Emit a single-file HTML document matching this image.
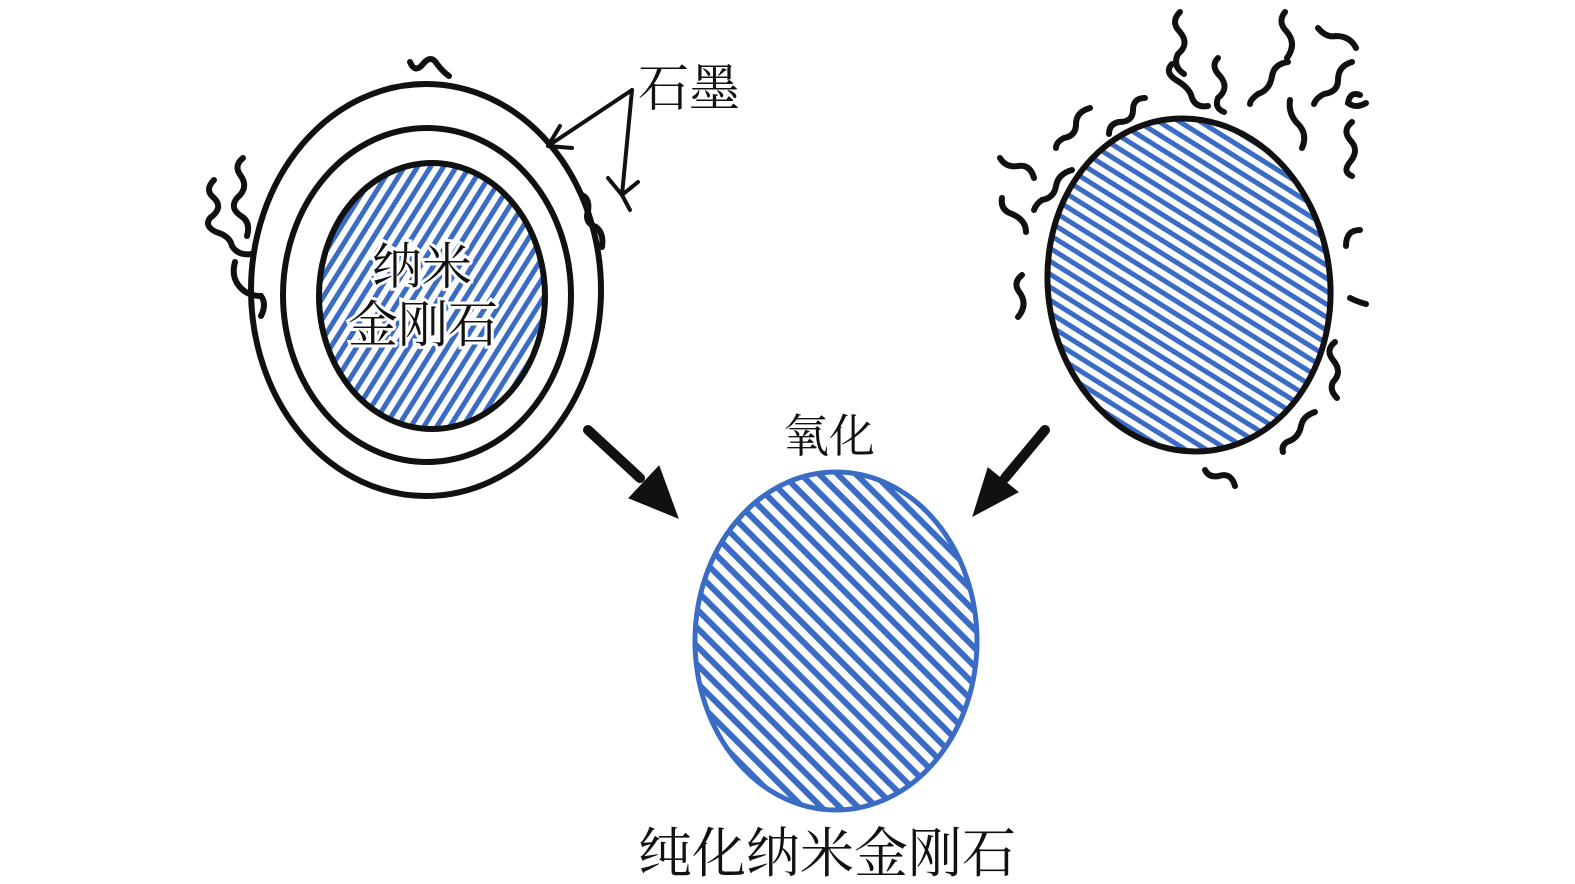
<!DOCTYPE html>
<html><head><meta charset="utf-8"><style>
html,body{margin:0;padding:0;background:#fff;}
svg{display:block}
text{font-family:"Liberation Serif","Noto Serif CJK SC","Noto Sans CJK SC",serif;fill:#111}
</style></head><body>
<svg width="1575" height="884" viewBox="0 0 1575 884" xmlns="http://www.w3.org/2000/svg">
<defs>
<pattern id="hs" width="11" height="11" patternUnits="userSpaceOnUse" patternTransform="rotate(-58)">
<rect width="11" height="11" fill="#fff"/><rect width="11" height="5" fill="#3a6cc6"/>
</pattern>
<pattern id="hb" width="11" height="11" patternUnits="userSpaceOnUse" patternTransform="rotate(40)">
<rect width="11" height="11" fill="#fff"/><rect width="11" height="5" fill="#3a6cc6"/>
</pattern>
<pattern id="hc" width="13" height="13" patternUnits="userSpaceOnUse" patternTransform="rotate(45)">
<rect width="13" height="13" fill="#fff"/><rect width="13" height="6" fill="#3a6cc6"/>
</pattern>
</defs>

<!-- left particle -->
<ellipse cx="426" cy="290" rx="175" ry="206" fill="#fff" stroke="#111" stroke-width="6"/>
<ellipse cx="427" cy="295" rx="144" ry="167" fill="#fff" stroke="#111" stroke-width="6"/>
<ellipse cx="432" cy="296" rx="113" ry="133" fill="url(#hs)" stroke="#111" stroke-width="6"/>
<text x="372" y="284" font-size="50" stroke="#fff" stroke-width="6" paint-order="stroke">纳米</text>
<text x="348" y="342" font-size="50" stroke="#fff" stroke-width="6" paint-order="stroke">金刚石</text>

<!-- graphite pointer -->
<text x="638" y="106" font-size="51">石墨</text>
<g stroke="#111" stroke-width="4" fill="none" stroke-linecap="round">
<path d="M632 90 L548 146 M548 146 L560 126 M548 146 L572 148"/>
<path d="M632 90 L622 195 M622 195 L608 178 M622 195 L638 182 M622 195 L630 210"/>
</g>

<!-- squiggles left -->
<g stroke="#111" stroke-width="6" fill="none" stroke-linecap="round">
<path d="M410 62 q5 12 13 2 q8-10 14 0 q6 8 12 12"/>
<path d="M243 158 q-10 8 -2 18 q8 12 -4 22 q-8 10 4 18 q10 6 6 20"/>
<path d="M214 180 q-10 10 0 18 q10 10 -4 20 q-6 8 6 14 q14 4 16 14 q6 10 20 8"/>
<path d="M235 262 q-4 14 4 24 q8 10 22 10 q6 8 0 20"/>
<path d="M582 195 q8 4 6 16 q-4 12 8 16 q8 6 6 20"/>
</g>

<!-- right particle -->
<ellipse cx="1189" cy="285" rx="141" ry="167" transform="rotate(-8 1189 285)" fill="url(#hb)" stroke="#111" stroke-width="6"/>
<g stroke="#111" stroke-width="6" fill="none" stroke-linecap="round">
<path d="M1180 12 q-10 10 0 20 q10 12 -2 22 q-6 12 6 20"/>
<path d="M1172 64 q-8 8 4 16 q14 8 16 18 q4 10 16 8"/>
<path d="M1218 58 q-8 8 2 18 q10 12 -2 22 q-4 10 6 14"/>
<path d="M1288 62 q-14 2 -16 14 q-2 14 -14 18 q-8 6 -8 10"/>
<path d="M1285 12 q-8 10 2 20 q10 12 0 26"/>
<path d="M1318 28 q8 10 18 8 q14 0 20 12"/>
<path d="M1352 62 q-14 4 -14 18 q0 12 -14 14 q-8 4 -10 10"/>
<path d="M1360 95 q-10 -4 -12 8 q8 6 18 0"/>
<path d="M1290 100 q-2 14 8 24 q10 10 4 24"/>
<path d="M1352 122 q-10 8 -2 18 q10 10 0 22 q-8 10 2 14"/>
<path d="M1145 98 q-12 0 -12 12 q0 12 -14 12 q-10 2 -10 12"/>
<path d="M1090 108 q-14 4 -14 16 q0 12 -12 14 q-8 4 -8 10"/>
<path d="M1000 158 q6 10 18 8 q12 -2 16 12"/>
<path d="M1072 170 q-14 4 -16 16 q-2 12 -14 14 q-6 4 -8 10"/>
<path d="M1002 198 q-2 12 10 16 q14 6 14 18"/>
<path d="M1022 275 q-10 8 -2 18 q8 12 -2 24"/>
<path d="M1360 230 q-14 0 -14 16"/>
<path d="M1350 298 q8 4 16 6"/>
<path d="M1335 342 q-10 8 -2 18 q10 12 0 22 q-4 8 4 16"/>
<path d="M1315 412 q-12 4 -14 14 q-2 12 -14 16 q-6 4 -4 10"/>
<path d="M1205 470 q4 8 14 6 q12 -4 16 10"/>
</g>

<!-- arrows -->
<g fill="#111" stroke="#111" stroke-linecap="round">
<line x1="588" y1="430" x2="640" y2="478" stroke-width="10"/>
<polygon points="678,518 629,498 659,466"/>
<line x1="1045" y1="430" x2="1005" y2="478" stroke-width="10"/>
<polygon points="973,516 988,468 1018,492"/>
</g>

<text x="783" y="452" font-size="46">氧化</text>

<!-- center particle -->
<ellipse cx="836" cy="641" rx="141" ry="169" fill="url(#hc)" stroke="#3a6cc6" stroke-width="5"/>

<text x="638" y="872" font-size="54">纯化纳米金刚石</text>
</svg>
</body></html>
